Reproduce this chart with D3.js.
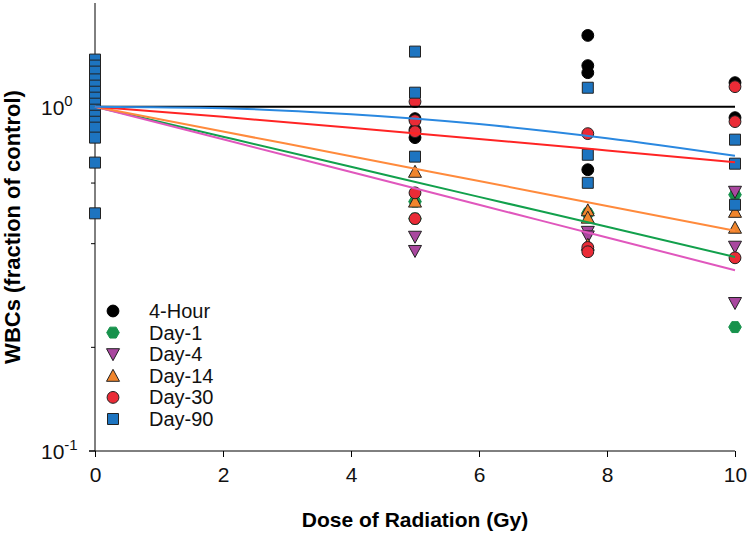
<!DOCTYPE html>
<html>
<head>
<meta charset="utf-8">
<script src="https://cdn.jsdelivr.net/npm/d3@7"></script>
<style>
  body { margin: 0; background: #fff; }
  svg text { font-family: "Liberation Sans", Arial, sans-serif; }
</style>
</head>
<body>
<div id="chart"></div>
<script>
// dose groups (Gy)
var series = ["4-Hour", "Day-1", "Day-4", "Day-14", "Day-30", "Day-90"];

var hourDose   = [5, 5, 5, 7.7, 7.7, 7.7, 7.7, 10, 10];
var hourVal    = [0.923, 0.857, 0.813, 1.61, 1.316, 1.255, 0.656, 1.174, 0.929];
var day1Dose   = [5, 5, 7.7, 10, 10];
var day1Val    = [0.53, 0.473, 0.49, 0.555, 0.229];
var day4Dose   = [5, 5, 7.7, 7.7, 10, 10, 10];
var day4Val    = [0.419, 0.381, 0.433, 0.42, 0.566, 0.392, 0.269];
var day14Dose  = [5, 5, 7.7, 7.7, 7.7, 10, 10];
var day14Val   = [0.647, 0.53, 0.50, 0.476, 0.397, 0.495, 0.445];
var day30Dose  = [5, 5, 5, 5, 5, 7.7, 7.7, 7.7, 10, 10, 10];
var day30Val   = [1.034, 0.911, 0.846, 0.562, 0.473, 0.835, 0.39, 0.379, 1.143, 0.905, 0.364];
var day90Dose  = [0, 0, 0, 0, 0, 0, 0, 0, 0, 0, 0, 0, 0, 0, 0, 5, 5, 5, 7.7, 7.7, 7.7, 10, 10, 10];
var day90Val   = [1.37, 1.316, 1.264, 1.20, 1.151, 1.105, 1.062, 1.02, 0.98, 0.941, 0.904, 0.869, 0.813, 0.688, 0.49,
                  1.445, 1.098, 0.716, 1.135, 0.725, 0.601, 0.802, 0.683, 0.519];

// fitted curves read at these doses
var fitDose  = [0, 2, 4, 6, 8, 10];
var fitHour  = [1, 1, 1, 1, 1, 1];
var fitDay1  = [1, 0.818, 0.669, 0.547, 0.448, 0.366];
var fitDay4  = [1, 0.804, 0.646, 0.519, 0.417, 0.335];
var fitDay14 = [1, 0.847, 0.718, 0.608, 0.515, 0.436];
var fitDay30 = [1, 0.934, 0.869, 0.806, 0.746, 0.69];
var fitDay90 = [1, 0.99, 0.95, 0.89, 0.81, 0.72];

var xTicks = [0, 2, 4, 6, 8, 10];
var yMinor = [0.2, 0.4, 0.6, 0.8];

var W = 750, H = 536;
var margin = {left: 95, right: 15, top: 3, bottom: 85};

var svg = d3.select("#chart").append("svg")
    .attr("width", W).attr("height", H);

var x = d3.scaleLinear().domain([0, 10]).range([margin.left, W - margin.right]);
var y = d3.scaleLog().domain([0.1, 2]).range([H - margin.bottom, margin.top]);

var groups = [
  {name: series[0], dose: hourDose,  val: hourVal,  fit: fitHour,  shape: "circle",   fill: "#000000", stroke: "#000", line: "#000000"},
  {name: series[1], dose: day1Dose,  val: day1Val,  fit: fitDay1,  shape: "hexagon",  fill: "#17924c", stroke: "#17924c", line: "#12a04c"},
  {name: series[2], dose: day4Dose,  val: day4Val,  fit: fitDay4,  shape: "tridown",  fill: "#a9479f", stroke: "#222", line: "#e057bd"},
  {name: series[3], dose: day14Dose, val: day14Val, fit: fitDay14, shape: "triup",    fill: "#f0852c", stroke: "#222", line: "#ff8a3c"},
  {name: series[4], dose: day30Dose, val: day30Val, fit: fitDay30, shape: "circle",   fill: "#ea2b36", stroke: "#222", line: "#ff2424"},
  {name: series[5], dose: day90Dose, val: day90Val, fit: fitDay90, shape: "square",   fill: "#1d74c0", stroke: "#222", line: "#2a88e0"}
];

function markerPath(shape) {
  if (shape == "circle") return d3.symbol(d3.symbolCircle, 110)();
  if (shape == "square") return d3.symbol(d3.symbolSquare, 121)();
  if (shape == "triup") return "M0,-6.5L6.5,5.5L-6.5,5.5Z";
  if (shape == "tridown") return "M0,6.5L6.5,-5.5L-6.5,-5.5Z";
  // hexagon
  var pts = d3.range(6).map(function(i){
    var a = Math.PI / 3 * i;
    return [6.3 * Math.cos(a), 6.3 * Math.sin(a)];
  });
  return "M" + pts.join("L") + "Z";
}

// axes
var xAxis = d3.axisBottom(x).tickValues(xTicks).tickSize(6).tickPadding(10);
var gx = svg.append("g").attr("transform", "translate(0," + y(0.1) + ")").call(xAxis);
gx.select(".domain").attr("d", "M" + (x(0) - 6) + ",0H" + x(10));
gx.selectAll("text").style("font-size", "21px").attr("fill", "#111");

var gy = svg.append("g").attr("transform", "translate(" + x(0) + ",0)");
gy.append("line").attr("x1", 0).attr("x2", 0).attr("y1", y(2)).attr("y2", y(0.1)).attr("stroke", "#000");
gy.selectAll(".major").data([0.1, 1]).join("line")
    .attr("x1", -6).attr("x2", 0)
    .attr("y1", function(d){ return y(d); }).attr("y2", function(d){ return y(d); })
    .attr("stroke", "#000");
gy.selectAll(".minor").data(yMinor).join("line")
    .attr("x1", -4).attr("x2", 0)
    .attr("y1", function(d){ return y(d); }).attr("y2", function(d){ return y(d); })
    .attr("stroke", "#000");
var ylab = svg.selectAll(".ylab").data([["0", 1], ["-1", 0.1]]).join("text")
    .attr("x", 41).attr("y", function(d){ return y(d[1]) + 8; })
    .style("font-size", "21px").attr("fill", "#111");
ylab.append("tspan").text("10");
ylab.append("tspan").attr("dy", -9).style("font-size", "15px").text(function(d){ return d[0]; });

// points
var layer = svg.append("g");
groups.forEach(function(g){
  layer.selectAll(null).data(d3.range(g.dose.length)).join("path")
      .attr("d", markerPath(g.shape))
      .attr("transform", function(i){ return "translate(" + x(g.dose[i]) + "," + y(g.val[i]) + ")"; })
      .attr("fill", g.fill).attr("stroke", g.stroke).attr("stroke-width", 1);
});

// fitted curves
var line = d3.line()
    .x(function(d, i){ return x(fitDose[i]); })
    .y(function(d){ return y(d); })
    .curve(d3.curveMonotoneX);
groups.forEach(function(g){
  svg.append("path").datum(g.fit)
      .attr("d", line)
      .attr("fill", "none").attr("stroke", g.line).attr("stroke-width", 2);
});

// legend
var leg = svg.append("g");
groups.forEach(function(g, i){
  var ly = 311 + i * 21.6;
  leg.append("path").attr("d", markerPath(g.shape))
      .attr("transform", "translate(113," + ly + ")")
      .attr("fill", g.fill).attr("stroke", g.stroke).attr("stroke-width", 1);
  leg.append("text").attr("x", 149).attr("y", ly + 7)
      .style("font-size", "20px").attr("fill", "#111").text(g.name);
});

// titles
svg.append("text")
    .attr("x", (x(0) + x(10)) / 2).attr("y", 527)
    .attr("text-anchor", "middle")
    .style("font-size", "21px").style("font-weight", "bold")
    .text("Dose of Radiation (Gy)");
svg.append("text")
    .attr("transform", "translate(20," + ((y(2) + y(0.1)) / 2) + ") rotate(-90)")
    .attr("text-anchor", "middle")
    .style("font-size", "22px").style("font-weight", "bold")
    .text("WBCs (fraction of control)");
</script>
</body>
</html>
